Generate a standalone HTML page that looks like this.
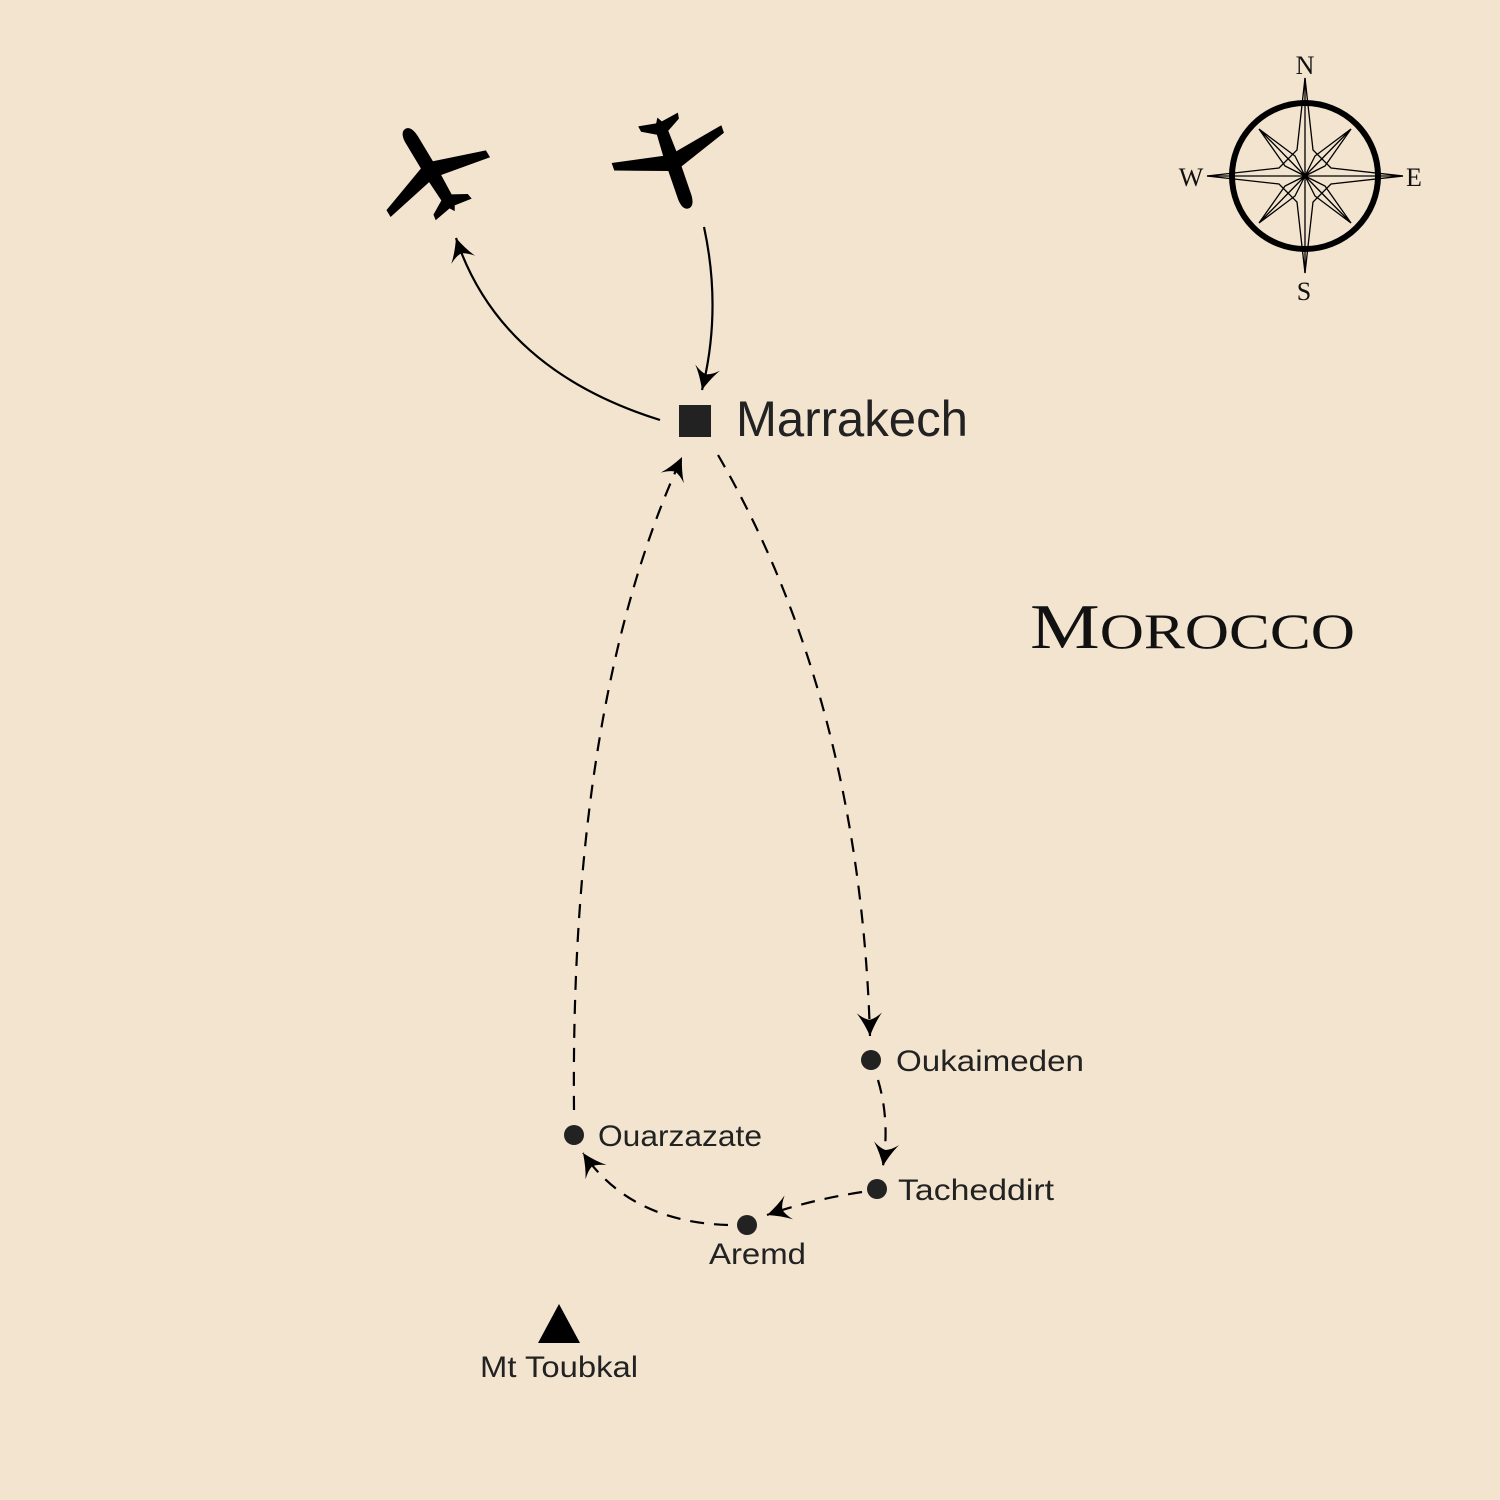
<!DOCTYPE html>
<html><head><meta charset="utf-8"><style>
html,body{margin:0;padding:0;background:#f3e4cf;}
svg{display:block;}
</style></head><body>
<svg width="1500" height="1500" viewBox="0 0 1500 1500" xmlns="http://www.w3.org/2000/svg">
<defs>
<marker id="ah" markerUnits="userSpaceOnUse" markerWidth="30" markerHeight="30" refX="0" refY="0" viewBox="-22 -13 24 26" orient="auto">
<path d="M0,0 Q-12,-5 -20,-11 Q-15,-5 -14,0 Q-15,5 -20,11 Q-12,5 0,0Z" fill="#000"/>
</marker>
<path id="plane" d="M0,-48 C5,-48 7,-42 7,-35 L7,-6 L58,12 L58,20 L7,10 L6,32 L20,40 L21,46 L3,43 L0,48 L-3,43 L-21,46 L-20,40 L-6,32 L-7,10 L-58,20 L-58,12 L-7,-6 L-7,-35 C-7,-42 -5,-48 0,-48Z"/>
</defs>
<rect width="1500" height="1500" fill="#f3e4cf"/>

<!-- planes -->
<use href="#plane" transform="translate(430,170) rotate(-31)" fill="#000"/>
<use href="#plane" transform="translate(673,163) rotate(161)" fill="#000"/>

<!-- solid flight lines -->
<path d="M660,420 Q500,370 456,238" fill="none" stroke="#000" stroke-width="2.2" marker-end="url(#ah)"/>
<path d="M704,227 Q722,310 702,390" fill="none" stroke="#000" stroke-width="2.2" marker-end="url(#ah)"/>

<!-- dashed routes -->
<g fill="none" stroke="#000" stroke-width="2.2" stroke-dasharray="14,10">
<path d="M718,455 Q860,700 870,1036" marker-end="url(#ah)"/>
<path d="M878,1080 Q890,1120 883,1166" marker-end="url(#ah)"/>
<path d="M862,1192 Q810,1200 767,1215" marker-end="url(#ah)"/>
<path d="M728,1225 Q630,1222 583,1153" marker-end="url(#ah)"/>
<path d="M574,1110 Q570,700 682,457" marker-end="url(#ah)"/>
</g>

<!-- Marrakech -->
<rect x="679" y="405" width="32" height="32" fill="#222"/>
<text x="736" y="436" font-family="Liberation Sans, sans-serif" font-size="50" fill="#222" textLength="232" lengthAdjust="spacingAndGlyphs">Marrakech</text>

<!-- stops -->
<g fill="#222">
<circle cx="871" cy="1060" r="10"/>
<circle cx="877" cy="1189" r="10"/>
<circle cx="747" cy="1225" r="10"/>
<circle cx="574" cy="1135" r="10"/>
</g>
<g font-family="Liberation Sans, sans-serif" font-size="30" fill="#222">
<text x="896" y="1071" textLength="188" lengthAdjust="spacingAndGlyphs">Oukaimeden</text>
<text x="898" y="1200" textLength="156" lengthAdjust="spacingAndGlyphs">Tacheddirt</text>
<text x="709" y="1264" textLength="97" lengthAdjust="spacingAndGlyphs">Aremd</text>
<text x="598" y="1146" textLength="164" lengthAdjust="spacingAndGlyphs">Ouarzazate</text>
<text x="480" y="1377" textLength="158" lengthAdjust="spacingAndGlyphs">Mt Toubkal</text>
</g>
<polygon points="559,1304 538,1343 580,1343" fill="#000"/>

<!-- Morocco -->
<text x="1030" y="648" font-family="Liberation Serif, serif" fill="#111" textLength="325" lengthAdjust="spacingAndGlyphs"><tspan font-size="64">M</tspan><tspan font-size="50">OROCCO</tspan></text>

<!-- compass -->
<g transform="translate(1305,176)" fill="none" stroke="#000" stroke-width="1.3">
<circle r="73" stroke-width="6"/>
<!-- cardinal star -->
<path d="M0,-98 L8,-26 L26,-8 L98,0 L26,8 L8,26 L0,97 L-8,26 L-26,8 L-98,0 L-26,-8 L-8,-26 Z"/>
<line x1="0" y1="-98" x2="0" y2="97"/>
<line x1="-98" y1="0" x2="98" y2="0"/>
<!-- diagonal points -->
<path d="M-46,-47 L-10,-20 L0,0 L-20,-10 Z M-46,-47 L0,0"/>
<path d="M46,-47 L20,-10 L0,0 L10,-20 Z M46,-47 L0,0"/>
<path d="M-46,47 L-20,10 L0,0 L-10,20 Z M-46,47 L0,0"/>
<path d="M46,47 L10,20 L0,0 L20,10 Z M46,47 L0,0"/>
</g>
<g font-family="Liberation Serif, serif" font-size="26" fill="#111" text-anchor="middle">
<text x="1305" y="74">N</text>
<text x="1304" y="300">S</text>
<text x="1191" y="186">W</text>
<text x="1414" y="186">E</text>
</g>
</svg>
</body></html>
